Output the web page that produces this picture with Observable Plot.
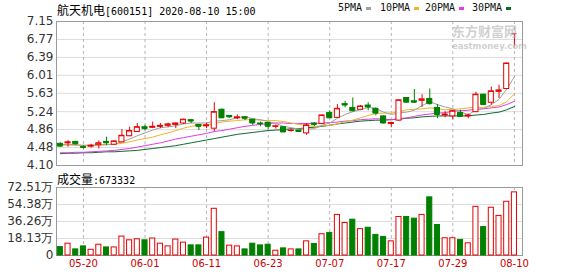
<!DOCTYPE html>
<html><head><meta charset="utf-8">
<script src="https://cdn.jsdelivr.net/npm/d3@7"></script>
<script src="https://cdn.jsdelivr.net/npm/@observablehq/plot@0.6"></script>
<style>
body{margin:0;background:#fff;}
#wrap{position:relative;width:578px;height:276px;overflow:hidden;background:#fff;}
.abs{position:absolute;white-space:nowrap;line-height:1;}
#wrap svg{position:absolute;left:0;}
.cjk{font-family:"Noto Sans CJK SC",sans-serif;font-size:12px;}
.mono{font-family:"DejaVu Sans Mono",monospace;font-size:10px;}
.dash{position:absolute;width:5px;height:3px;}
</style></head><body><div id="wrap"></div>
<script>
const title = "航天机电";
const titleRest = "[600151] 2020-08-10 15:00";
const volLabel = "成交量";
const volLast = ":673332";
const maNames = ["5PMA","10PMA","20PMA","30PMA"];
const maColors = ["#a0a0a0","#f0b428","#e23ce2","#0e6b2e"];

const dates = ["05-15","05-18","05-19","05-20","05-21","05-22","05-25","05-26","05-27","05-28","05-29","06-01","06-02","06-03","06-04","06-05","06-08","06-09","06-10","06-11","06-12","06-15","06-16","06-17","06-18","06-19","06-22","06-23","06-24","06-29","06-30","07-01","07-02","07-03","07-06","07-07","07-08","07-09","07-10","07-13","07-14","07-15","07-16","07-17","07-20","07-21","07-22","07-23","07-24","07-27","07-28","07-29","07-30","07-31","08-03","08-04","08-05","08-06","08-07","08-10"];
const opens  = [4.56,4.57,4.60,4.49,4.50,4.53,4.60,4.54,4.59,4.72,4.81,4.91,4.90,4.92,4.94,4.96,4.99,5.06,4.96,4.93,4.88,5.28,5.15,5.10,5.12,5.07,4.99,5.00,4.92,4.91,4.83,4.84,4.78,4.99,4.98,5.21,5.11,5.40,5.32,5.28,5.37,5.30,5.14,4.98,5.05,5.53,5.46,5.47,5.51,5.32,5.16,5.14,5.21,5.14,5.23,5.60,5.43,5.66,5.72,6.89];
const closes = [4.51,4.59,4.56,4.48,4.52,4.57,4.58,4.61,4.73,4.83,4.91,4.88,4.92,4.94,4.97,4.99,5.07,5.04,4.93,4.95,5.23,5.11,5.13,5.12,5.10,5.00,4.98,4.93,4.93,4.81,4.84,4.82,4.95,4.97,5.16,5.11,5.30,5.38,5.26,5.35,5.34,5.21,5.00,5.00,5.48,5.44,5.44,5.50,5.41,5.18,5.18,5.25,5.14,5.16,5.60,5.39,5.67,5.69,6.26,6.89];
const highs  = [4.58,4.63,4.61,4.52,4.55,4.62,4.70,4.62,4.86,4.91,4.99,4.95,5.02,4.99,5.00,5.00,5.08,5.07,4.97,5.00,5.43,5.30,5.16,5.17,5.13,5.08,5.02,5.01,4.96,4.92,4.87,4.85,4.99,5.01,5.17,5.26,5.39,5.46,5.53,5.37,5.43,5.32,5.15,5.02,5.49,5.54,5.71,5.60,5.72,5.39,5.24,5.27,5.27,5.19,5.65,5.61,5.76,5.80,6.27,6.89];
const lows   = [4.49,4.49,4.53,4.45,4.47,4.45,4.52,4.53,4.58,4.71,4.80,4.84,4.88,4.88,4.90,4.88,4.97,4.99,4.84,4.88,4.82,5.10,5.10,5.07,5.05,4.95,4.92,4.86,4.87,4.80,4.81,4.80,4.74,4.92,4.97,5.10,5.10,5.32,5.24,5.27,5.26,5.15,4.98,4.90,5.04,5.43,5.42,5.33,5.38,5.09,5.11,5.07,5.12,5.09,5.22,5.37,5.38,5.52,5.71,6.63];
const volumes = [9.0,12.6,6.5,9.7,6.1,11.5,8.6,8.6,20.2,16.2,17.3,16.2,18.1,12.6,9.7,17.0,13.7,10.8,10.8,19.1,49.8,24.9,10.5,9.7,6.5,12.6,10.8,11.5,5.1,7.6,6.5,6.5,15.1,12.3,22.7,24.1,43.3,34.6,38.2,28.1,29.6,22.0,19.8,15.1,41.1,41.1,39.3,43.3,62.0,32.5,18.4,18.4,16.6,13.0,51.9,30.3,50.9,42.2,57.3,67.33];
const volDir = ["g","r","g","g","r","r","g","r","r","r","r","g","r","r","r","r","r","g","g","r","r","g","r","r","g","g","g","g","r","g","r","g","r","g","r","g","r","r","g","r","g","g","g","r","r","g","g","r","g","g","r","r","g","r","r","g","r","r","r","r"];
const ma5  = [4.54,4.55,4.54,4.53,4.53,4.54,4.54,4.55,4.60,4.66,4.73,4.79,4.85,4.90,4.92,4.94,4.98,5.00,5.00,5.00,5.04,5.05,5.07,5.11,5.14,5.09,5.07,5.03,4.99,4.93,4.90,4.87,4.87,4.88,4.95,5.00,5.10,5.18,5.24,5.28,5.33,5.31,5.23,5.18,5.21,5.23,5.27,5.37,5.45,5.39,5.34,5.30,5.23,5.18,5.27,5.31,5.39,5.50,5.72,5.98];
const ma10 = [4.53,4.53,4.53,4.52,4.52,4.53,4.54,4.55,4.57,4.60,4.64,4.67,4.70,4.75,4.79,4.84,4.89,4.93,4.95,4.96,4.99,5.02,5.04,5.05,5.07,5.07,5.06,5.05,5.05,5.03,5.00,4.97,4.95,4.93,4.94,4.95,4.98,5.03,5.06,5.11,5.16,5.20,5.21,5.21,5.24,5.28,5.29,5.30,5.32,5.30,5.28,5.29,5.30,5.32,5.33,5.33,5.35,5.37,5.45,5.62];
const ma20 = [4.37,4.37,4.38,4.38,4.39,4.40,4.41,4.42,4.44,4.46,4.49,4.52,4.55,4.58,4.62,4.66,4.69,4.72,4.75,4.78,4.82,4.84,4.87,4.90,4.93,4.95,4.97,4.99,5.00,5.00,4.99,4.99,4.99,4.99,5.00,5.01,5.02,5.04,5.05,5.07,5.08,5.09,5.08,5.07,5.09,5.11,5.14,5.17,5.19,5.21,5.22,5.25,5.26,5.27,5.29,5.30,5.32,5.34,5.39,5.46];
const ma30 = [4.35,4.36,4.36,4.37,4.37,4.38,4.39,4.39,4.40,4.41,4.42,4.44,4.46,4.48,4.50,4.52,4.55,4.58,4.61,4.64,4.67,4.70,4.73,4.76,4.78,4.80,4.82,4.84,4.85,4.86,4.88,4.88,4.90,4.91,4.93,4.95,4.98,5.00,5.02,5.04,5.05,5.06,5.06,5.07,5.08,5.10,5.11,5.13,5.14,5.15,5.15,5.15,5.15,5.15,5.17,5.18,5.21,5.23,5.28,5.35];
const priceTickLabels = ["4.10","4.48","4.86","5.24","5.63","6.01","6.39","6.77","7.15"];
const volTickLabels = ["0","18.13万","36.26万","54.38万","72.51万"];
const dateTicks = ["05-20","06-01","06-11","06-23","07-07","07-17","07-29","08-10"];

const RED = "#e60000", GREEN = "#008000";
const rows = dates.map((d, i) => ({i, date: d, open: opens[i], close: closes[i], high: highs[i], low: lows[i], vol: volumes[i], vd: volDir[i]}));
const up = rows.filter(d => d.close >= d.open), down = rows.filter(d => d.close < d.open);
const priceTicks = priceTickLabels.map(Number);
const volTicks = volTickLabels.map(s => parseFloat(s));
const tickIdx = dateTicks.map(d => dates.indexOf(d));
const hw = 0.33;
const xScale = {type: "linear", domain: [-0.5, 60.05], axis: null};
const common = {width: 578, marginLeft: 56, marginRight: 56, style: {fontFamily: "DejaVu Sans", fontSize: "12px", background: "transparent", overflow: "visible"}};
const candleColor = d => d.close >= d.open ? RED : GREEN;

const price = Plot.plot({
  ...common, height: 166, marginTop: 21, marginBottom: 1,
  x: xScale, y: {domain: [4.10, 7.15], axis: null},
  marks: [
    Plot.ruleY(priceTicks.slice(1, -1), {stroke: "#dcdcdc"}),
    Plot.ruleX(tickIdx, {stroke: "#b4b4b4", strokeDasharray: "3,3"}),
    Plot.frame({stroke: "#9a9a9a"}),
    Plot.text(priceTicks, {y: d => d, frameAnchor: "left", textAnchor: "end", dx: -3, text: (d, k) => priceTickLabels[k], fill: "#333"}),
    Plot.lineY(ma30, {stroke: maColors[3], strokeWidth: 1}),
    Plot.lineY(ma20, {stroke: maColors[2], strokeWidth: 1}),
    Plot.lineY(ma10, {stroke: maColors[1], strokeWidth: 1}),
    Plot.lineY(ma5, {stroke: maColors[0], strokeWidth: 1}),
    Plot.ruleX(rows, {x: "i", y1: "low", y2: "high", stroke: candleColor}),
    Plot.rect(up, {x1: d => d.i - hw, x2: d => d.i + hw, y1: "open", y2: "close", fill: "white", stroke: RED}),
    Plot.rect(down, {x1: d => d.i - hw, x2: d => d.i + hw, y1: "open", y2: "close", fill: GREEN, stroke: GREEN}),
    Plot.ruleY(rows, {y: "close", x1: d => d.i - hw, x2: d => d.i + hw, stroke: candleColor})
  ]
});
price.style.top = "0px";

const vol = Plot.plot({
  ...common, height: 106, marginTop: 17, marginBottom: 21,
  x: xScale, y: {domain: [0, 72.51], axis: null},
  marks: [
    Plot.ruleY(volTicks.slice(1, -1), {stroke: "#dcdcdc"}),
    Plot.ruleX(tickIdx, {stroke: "#b4b4b4", strokeDasharray: "3,3"}),
    Plot.frame({stroke: "#9a9a9a"}),
    Plot.text(volTicks, {y: d => d, frameAnchor: "left", textAnchor: "end", dx: -3, text: (d, k) => volTickLabels[k], fill: "#333"}),
    Plot.text(tickIdx, {x: d => d, frameAnchor: "bottom", dy: 11, text: d => dates[d], fill: "#cc0000", fontSize: 10}),
    Plot.rect(rows.filter(d => d.vd === "r"), {x1: d => d.i - hw, x2: d => d.i + hw, y1: 0, y2: "vol", fill: "white", stroke: RED}),
    Plot.rect(rows.filter(d => d.vd === "g"), {x1: d => d.i - hw, x2: d => d.i + hw, y1: 0, y2: "vol", fill: GREEN, stroke: GREEN})
  ]
});
vol.style.top = "170px";

const wrap = document.getElementById("wrap");
wrap.appendChild(price);
wrap.appendChild(vol);

function addDiv(html, cls, left, top, extra) {
  const el = document.createElement("div");
  el.className = "abs " + cls;
  el.style.left = left + "px"; el.style.top = top + "px";
  if (extra) Object.assign(el.style, extra);
  el.innerHTML = html;
  wrap.appendChild(el);
  return el;
}
addDiv(`<span class="cjk">${title}</span><span class="mono">${titleRest}</span>`, "", 57, 2);
addDiv(`<span class="cjk">${volLabel}</span><span class="mono">${volLast}</span>`, "", 57, 171);
const legendX = [338, 380, 425, 472];
maNames.forEach((n, k) => {
  addDiv(n, "mono", legendX[k], 3, {fontSize: "10px", color: "#111"});
  const d = document.createElement("div");
  d.className = "dash";
  d.style.left = (legendX[k] + n.length * 6 + 4) + "px";
  d.style.top = "7px";
  d.style.background = maColors[k];
  wrap.appendChild(d);
});
addDiv("东方财富网", "", 452, 24, {fontFamily: "Noto Sans CJK SC", fontSize: "13px", fontWeight: "bold", color: "rgba(175,175,175,0.6)"});
addDiv("eastmoney.com", "", 452, 42, {fontFamily: "DejaVu Sans", fontSize: "8.5px", fontWeight: "bold", color: "rgba(175,175,175,0.6)"});
</script></body></html>
